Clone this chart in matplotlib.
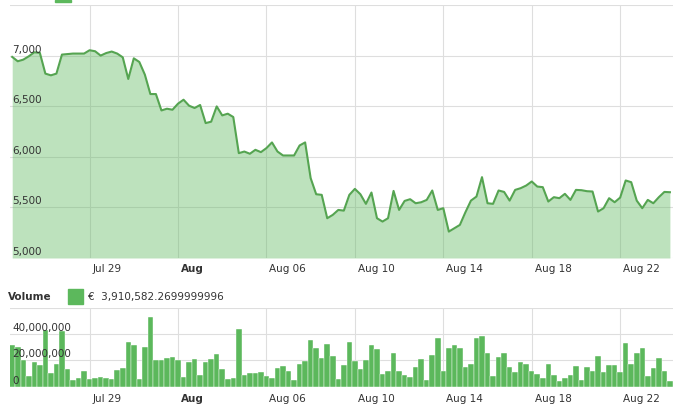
import numpy as np
import pandas as pd
import matplotlib
matplotlib.use("Agg")
import matplotlib.pyplot as plt
import matplotlib.dates as mdates
from matplotlib.patches import Rectangle
from matplotlib.transforms import ScaledTranslation

# series, one point every 6 hours
times = pd.date_range("2018-07-25 12:00", periods=120, freq="6h")

price = [
    6987, 6944, 6960, 6993, 7033, 7027, 6822, 6805, 6822, 7010,
    7015, 7020, 7020, 7020, 7053, 7043, 7000, 7025, 7040, 7020,
    6983, 6769, 6973, 6937, 6812, 6620, 6620, 6458, 6475, 6465,
    6525, 6564, 6505, 6482, 6512, 6333, 6347, 6498, 6409, 6426,
    6393, 6036, 6052, 6030, 6069, 6046, 6086, 6142, 6052, 6013,
    6013, 6013, 6112, 6142, 5789, 5630, 5624, 5393, 5426, 5475,
    5468, 5624, 5683, 5630, 5535, 5647, 5393, 5360, 5393, 5663,
    5475, 5564, 5581, 5541, 5551, 5574, 5667, 5475, 5492, 5261,
    5294, 5327, 5452, 5567, 5607, 5799, 5541, 5535, 5667, 5653,
    5567, 5673, 5690, 5716, 5756, 5706, 5700, 5558, 5601, 5591,
    5634, 5574, 5673, 5670, 5660, 5657, 5459, 5492, 5591, 5551,
    5597, 5766, 5749, 5567, 5492, 5574, 5541, 5601, 5653, 5650,
]

# volume in millions
volume_m = [
    31.5, 30.25, 20.25, 7.75, 19, 16.75, 42.75, 10.25, 17.5, 42.25,
    13.75, 4.75, 6.75, 12.25, 5.75, 6.5, 7.5, 6.75, 5.75, 13,
    14.5, 34.25, 31.75, 5.5, 30.5, 52.75, 20, 20, 21.5, 22.75,
    20, 7.5, 18.75, 20.75, 9.25, 18.75, 20.75, 25, 13.75, 6,
    6.75, 43.5, 8.75, 10.25, 10.75, 11.5, 8, 6.5, 14.5, 15.75,
    12.25, 5, 17.25, 19.5, 35.5, 29.25, 21.5, 32.75, 23, 5.75,
    16.75, 34.25, 19.5, 13.75, 20, 31.5, 28.5, 9.5, 11.75, 25.5,
    12.25, 8.75, 7.25, 15.25, 20.75, 5.25, 23.75, 37, 12.25, 29.75,
    31.5, 29.25, 15.25, 17.25, 37.25, 38.75, 25.25, 8.5, 22.75, 25.25,
    15.25, 11, 19, 17.5, 11.75, 9.75, 6.5, 17.5, 9, 4.25,
    6.75, 8.75, 16, 4.75, 15.25, 12, 23.5, 11.5, 16.75, 16.75,
    11, 33.5, 17.25, 25.25, 29.25, 8.5, 14.25, 22, 11.75, 4,
]

tick_dates = pd.date_range("2018-07-29", periods=7, freq="4D")
tick_labels = ["Jul 29", "Aug", "Aug 06", "Aug 10", "Aug 14", "Aug 18", "Aug 22"]

price_ticks = [5000, 5500, 6000, 6500, 7000, 7500]
volume_ticks = [0, 20e6, 40e6, 60e6]

legend_value = "€  3,910,582.2699999996"

GREEN = "#5cb85c"
LINE = "#55a451"
GRID = "#dedede"
TEXT = "#333333"

W, H = 679, 411
fig = plt.figure(figsize=(W / 100, H / 100), dpi=100)


def px_axes(left, top, right, bottom):
    return fig.add_axes([left / W, 1 - bottom / H, (right - left) / W, (bottom - top) / H])


t = mdates.date2num(times.to_pydatetime())
ticks = mdates.date2num(tick_dates.to_pydatetime())
vol = np.array(volume_m) * 1e6
xlim = (t[0] - 0.1, t[-1] + 0.14)

ax = px_axes(10, 5, 673, 258)
axv = px_axes(10, 307.7, 673, 386.7)


def style_axes(a, yticks, ylim, pad):
    a.set_xlim(*xlim)
    a.set_ylim(*ylim)
    a.set_xticks(ticks)
    a.set_xticklabels(tick_labels)
    a.set_yticks(yticks)
    a.grid(True, color=GRID, linewidth=0.8)
    a.set_axisbelow(True)
    for s in a.spines.values():
        s.set_visible(False)
    a.tick_params(axis="both", length=0, labelleft=False, pad=pad,
                  labelsize=7.5, labelcolor=TEXT)
    off = ScaledTranslation(3 / 100, 0, fig.dpi_scale_trans)
    for lab in a.get_xticklabels():
        lab.set_horizontalalignment("left")
        lab.set_transform(lab.get_transform() + off)
        if lab.get_text() == "Aug":
            lab.set_fontweight("bold")


# price panel
style_axes(ax, price_ticks, (5000, 7500), 4.3)
ax.fill_between(t, price, 5000, color=GREEN, alpha=0.4, linewidth=0)
ax.plot(t, price, color=LINE, linewidth=1.5)
for v in price_ticks[:-1]:
    ax.annotate(f"{v:,}", xy=(0, v), xycoords=ax.get_yaxis_transform(),
                xytext=(2, 1), textcoords="offset pixels", fontsize=7.5,
                color=TEXT, va="bottom", ha="left", zorder=5)

# volume panel
style_axes(axv, volume_ticks, (0, 60e6), 5)
axv.bar(t, vol, width=0.25, color=GREEN, edgecolor="white", linewidth=0.3, zorder=2)
for v in volume_ticks[:-1]:
    axv.annotate(f"{int(v):,}", xy=(0, v), xycoords=axv.get_yaxis_transform(),
                 xytext=(2, 1), textcoords="offset pixels", fontsize=7.5,
                 color=TEXT, va="bottom", ha="left", zorder=5)

# legends
fig.add_artist(Rectangle((55 / W, 1 - 2 / H), 16 / W, 2 / H,
                         transform=fig.transFigure, color=GREEN))
fig.text(8 / W, 1 - 297 / H, "Volume", fontsize=7.5, fontweight="bold",
         color=TEXT, va="center", ha="left")
fig.add_artist(Rectangle((68 / W, 1 - 304 / H), 15 / W, 15 / H,
                         transform=fig.transFigure, color=GREEN))
fig.text(88 / W, 1 - 297 / H, legend_value, fontsize=7.5, color=TEXT,
         va="center", ha="left")

fig.savefig("out.png", dpi=100)
